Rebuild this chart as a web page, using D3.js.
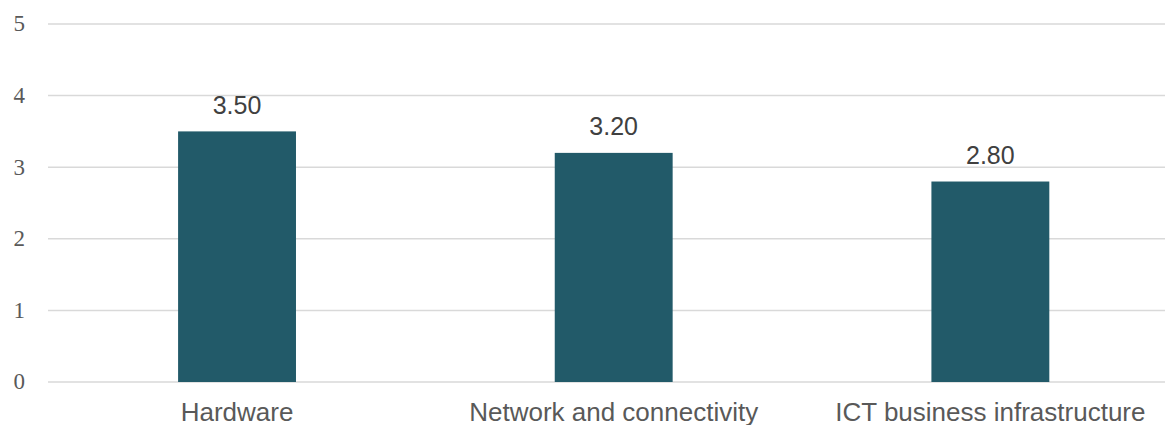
<!DOCTYPE html>
<html>
<head>
<meta charset="utf-8">
<script src="https://cdn.jsdelivr.net/npm/d3@7"></script>
<style>
  html, body { margin: 0; padding: 0; background: #fff; }
  svg { display: block; }
</style>
</head>
<body>
<svg id="chart" width="1165" height="425"></svg>
<script>
const categories = ["Hardware", "Network and connectivity", "ICT business infrastructure"];
const values = [3.5, 3.2, 2.8];
const yTicks = [0, 1, 2, 3, 4, 5];

const W = 1165, H = 425;
const svg = d3.select("#chart");

const x = d3.scaleBand()
  .domain(categories)
  .range([48.7, 1178.7])
  .paddingInner(0.687)
  .paddingOuter(0.3435);

const y = d3.scaleLinear().domain([0, 5]).range([382, 24]);

// gridlines
svg.append("g")
  .selectAll("line")
  .data(yTicks)
  .join("line")
  .attr("x1", 48)
  .attr("x2", W)
  .attr("y1", d => y(d))
  .attr("y2", d => y(d))
  .attr("stroke", "#d9d9d9")
  .attr("stroke-width", 1.5);

// y axis labels
const yAxis = d3.axisLeft(y).tickValues(yTicks).tickSize(0).tickPadding(0).tickFormat(d3.format("d"));
const yg = svg.append("g").attr("transform", "translate(25,0)").call(yAxis);
yg.attr("font-size", null).attr("font-family", null);
yg.select(".domain").remove();
yg.selectAll("text")
  .attr("font-family", "'Liberation Serif', serif")
  .attr("font-size", 23)
  .attr("fill", "#595959")
  .attr("dy", "0.3em");

// bars
svg.append("g")
  .selectAll("rect")
  .data(values)
  .join("rect")
  .attr("x", (d, i) => x(categories[i]))
  .attr("width", x.bandwidth())
  .attr("y", d => y(d))
  .attr("height", d => y(0) - y(d))
  .attr("fill", "#225a69");

// data labels
svg.append("g")
  .selectAll("text")
  .data(values)
  .join("text")
  .attr("x", (d, i) => x(categories[i]) + x.bandwidth() / 2)
  .attr("y", d => y(d) - 17.5)
  .attr("text-anchor", "middle")
  .attr("font-family", "'Liberation Sans', Arial, sans-serif")
  .attr("font-size", 25)
  .attr("fill", "#404040")
  .text(d => d3.format(".2f")(d));

// x axis labels
const xAxis = d3.axisBottom(x).tickSize(0).tickPadding(0);
const xg = svg.append("g").attr("transform", "translate(0,382)").call(xAxis);
xg.attr("font-size", null).attr("font-family", null);
xg.select(".domain").remove();
xg.selectAll("text")
  .attr("font-family", "'Liberation Sans', Arial, sans-serif")
  .attr("font-size", 26)
  .attr("fill", "#595959")
  .attr("dy", null)
  .attr("y", 38.5);
</script>
</body>
</html>
